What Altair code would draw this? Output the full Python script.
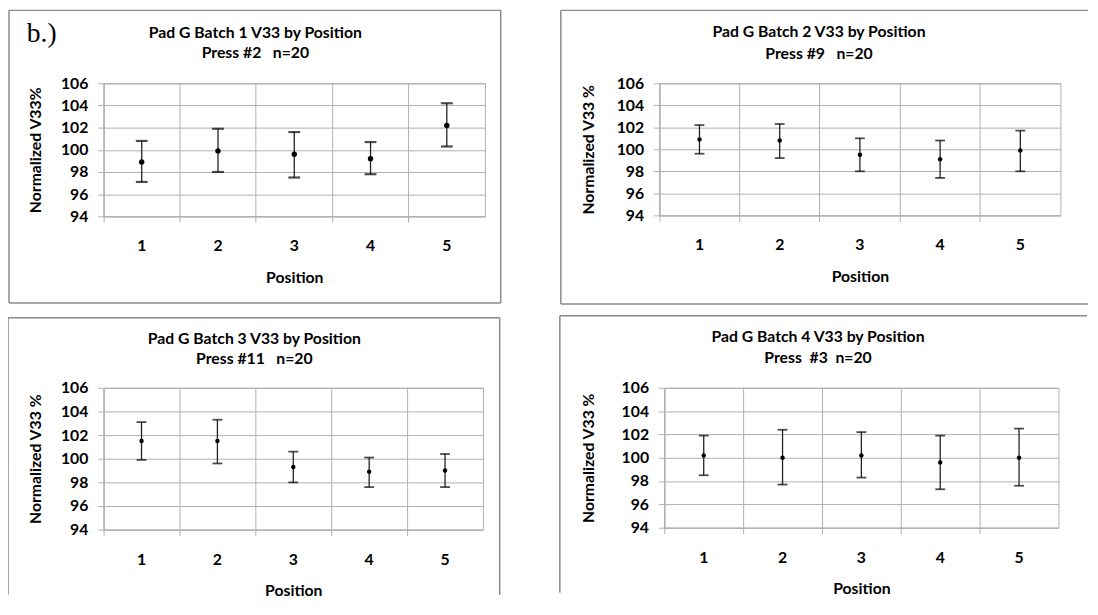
import altair as alt
import pandas as pd

positions = [1, 2, 3, 4, 5]

b1_mean = [98.9, 99.9, 99.6, 99.2, 102.2]
b1_hi = [100.8, 101.9, 101.6, 100.7, 104.2]
b1_lo = [97.1, 98.0, 97.5, 97.8, 100.3]

b2_mean = [100.9, 100.8, 99.5, 99.1, 99.9]
b2_hi = [102.2, 102.3, 101.0, 100.8, 101.7]
b2_lo = [99.6, 99.2, 98.0, 97.4, 98.0]

b3_mean = [101.5, 101.5, 99.3, 98.9, 99.0]
b3_hi = [103.1, 103.3, 100.6, 100.1, 100.4]
b3_lo = [99.9, 99.6, 98.0, 97.6, 97.6]

b4_mean = [100.2, 100.0, 100.2, 99.6, 100.0]
b4_hi = [101.9, 102.4, 102.2, 101.9, 102.5]
b4_lo = [98.5, 97.7, 98.3, 97.3, 97.6]

NB = "\u00a0"
titles = [
    ["Pad G Batch 1 V33 by Position", "Press #2" + NB * 3 + "n=20"],
    ["Pad G Batch 2 V33 by Position", "Press #9" + NB * 3 + "n=20"],
    ["Pad G Batch 3 V33 by Position", "Press #11" + NB * 3 + "n=20"],
    ["Pad G Batch 4 V33 by Position", "Press" + NB * 2 + "#3" + NB * 2 + "n=20"],
]
ytitles = ["Normalized V33%", "Normalized V33 %", "Normalized V33 %", "Normalized V33 %"]
yticks = [94, 96, 98, 100, 102, 104, 106]

BORDER = "#8a8a8a"
GRID = "#b0b0b0"
FONT = "Lato"
FS = 16

one = pd.DataFrame({"k": [0]})


def hrule(x1, x2, y):
    return alt.Chart(one).mark_rule(color=BORDER, strokeWidth=1.5).encode(
        x=alt.value(x1), x2=alt.value(x2), y=alt.value(y))


def vrule(x, y1, y2):
    return alt.Chart(one).mark_rule(color=BORDER, strokeWidth=1.5).encode(
        x=alt.value(x), y=alt.value(y1), y2=alt.value(y2))


def label(text, x, y, size=FS, font=FONT, weight="bold", align="center"):
    return alt.Chart(one).mark_text(
        text=text, font=font, fontSize=size, fontWeight=weight, align=align,
        baseline="middle", color="black").encode(x=alt.value(x), y=alt.value(y))


def panel(idx, mean, lo, hi, w, h, edges, tpos, ytp, dot, capw, capt):
    df = pd.DataFrame({"Position": positions, "mean": mean, "lo": lo, "hi": hi})
    x = alt.X("Position:O",
              scale=alt.Scale(paddingInner=0, paddingOuter=0),
              axis=alt.Axis(title="Position", labelAngle=0, bandPosition=0,
                            grid=True, tickSize=6,
                            labelPadding=16, titlePadding=16))
    yax = alt.Axis(title=ytitles[idx], values=yticks, tickSize=6,
                   labelPadding=10, titlePadding=ytp, grid=True)
    ysc = alt.Scale(domain=[94, 106], nice=False, zero=False)
    base = alt.Chart(df)
    bars = base.mark_rule(color="#222222", strokeWidth=1.3).encode(
        x=x, y=alt.Y("lo:Q", scale=ysc, axis=yax), y2="hi:Q")
    caph = base.mark_tick(color="black", size=capw, thickness=capt).encode(
        x=x, y=alt.Y("hi:Q", scale=ysc, axis=yax))
    capl = base.mark_tick(color="black", size=capw, thickness=capt).encode(
        x=x, y=alt.Y("lo:Q", scale=ysc, axis=yax))
    pts = base.mark_circle(color="black", opacity=1, size=dot).encode(
        x=x, y=alt.Y("mean:Q", scale=ysc, axis=yax))
    tx, ty1, ty2 = tpos
    layers = list(edges) + [
        label(titles[idx][0], tx, ty1),
        label(titles[idx][1], tx, ty2),
        bars, caph, capl, pts]
    if idx == 0:
        layers.append(alt.Chart(one).mark_text(
            text="b.)", font="Liberation Serif", fontSize=28, align="left",
            baseline="top", color="black").encode(
            x=alt.value(-78), y=alt.value(-64)))
    return alt.layer(*layers).properties(width=w, height=h)


# top row: plot tops aligned
w1, h1 = 387, 135
e1 = [hrule(-96, w1 + 16, -74), hrule(-96, w1 + 16, h1 + 88),
      vrule(-96, -74, h1 + 88), vrule(w1 + 16, -74, h1 + 88)]
p1 = panel(0, b1_mean, b1_lo, b1_hi, w1, h1, e1, (154, -51, -31), 17,
           dot=30, capw=12, capt=2.2)

w2, h2 = 407, 134
e2 = [hrule(-100, w2 + 28, -74), hrule(-100, w2 + 28, h2 + 90),
      vrule(-100, -74, h2 + 90)]
p2 = panel(1, b2_mean, b2_lo, b2_hi, w2, h2, e2, (162, -52, -30), 20,
           dot=20, capw=10, capt=1.8)

w3, h3 = 385, 144
e3 = [hrule(-97, w3 + 17, -71), vrule(-97, -71, h3 + 66), vrule(w3 + 17, -71, h3 + 66)]
p3 = panel(2, b3_mean, b3_lo, b3_hi, w3, h3, e3, (153, -49, -29), 17,
           dot=20, capw=10, capt=1.8)

w4, h4 = 400, 142
e4 = [hrule(-106, w4 + 29, -73), vrule(-106, -73, h4 + 66)]
p4 = panel(3, b4_mean, b4_lo, b4_hi, w4, h4, e4, (156, -51, -30), 25,
           dot=20, capw=10, capt=1.8)

chart = alt.vconcat(
    alt.hconcat(p1, p2, spacing=57),
    alt.hconcat(p3, p4, spacing=57),
    spacing=8,
).properties(
    padding={"left": -2, "top": -4, "right": 0, "bottom": 0},
    background="white",
).configure_view(stroke=GRID).configure_axis(
    gridColor=GRID, domainColor=GRID, tickColor=GRID,
    labelFont=FONT, labelFontWeight="bold", labelFontSize=FS, labelColor="black",
    titleFont=FONT, titleFontWeight="bold", titleFontSize=FS, titleColor="black",
)

chart.save("out.html", embed_options={"renderer": "svg", "actions": False})
